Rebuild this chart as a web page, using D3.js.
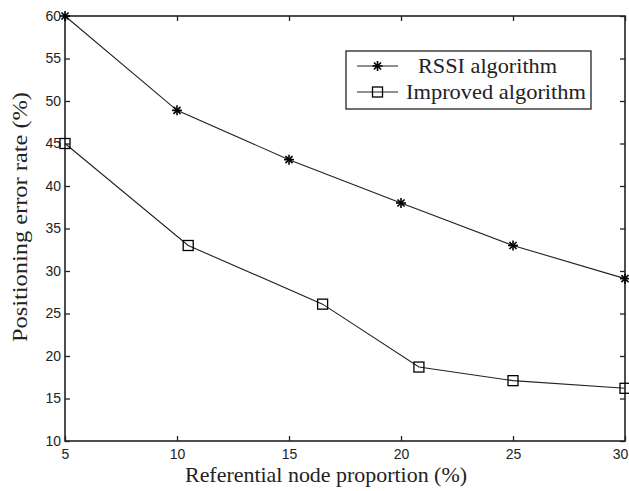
<!DOCTYPE html>
<html>
<head>
<meta charset="utf-8">
<script src="https://cdn.jsdelivr.net/npm/d3@7"></script>
<style>
  body { margin: 0; background: #fff; }
  svg { display: block; }
</style>
</head>
<body>
<svg id="chart" width="629" height="491"></svg>
<script>
// data
var rssiX = [5, 10, 15, 20, 25, 30];
var rssiY = [60, 48.9, 43.1, 38, 33, 29.1];
var impX = [5, 10.5, 16.5, 20.8, 25, 30];
var impY = [45, 33, 26.1, 18.7, 17.1, 16.2];
var xTicks = [5, 10, 15, 20, 25, 30];
var yTicks = [10, 15, 20, 25, 30, 35, 40, 45, 50, 55, 60];
var seriesNames = ["RSSI algorithm", "Improved algorithm"];

var svg = d3.select("#chart");
var m = { left: 65, top: 16, right: 625, bottom: 441 };

var x = d3.scaleLinear().domain([5, 30]).range([m.left, m.right]);
var y = d3.scaleLinear().domain([10, 60]).range([m.bottom, m.top]);

var ink = "#222";
var sans = "Arial, 'Liberation Sans', sans-serif";
var serif = "'Liberation Serif', 'Times New Roman', serif";

// frame ticks (inward on all four sides)
svg.append("g").attr("transform", "translate(0," + m.bottom + ")")
  .call(d3.axisBottom(x).tickValues(xTicks).tickSize(-5).tickPadding(8))
  .call(function(g) {
    g.select(".domain").remove();
    g.selectAll("text").attr("font-family", sans).attr("font-size", 14).attr("fill", ink);
    // last label sits against the window edge
    g.selectAll("text").filter(function(d) { return d === 30; }).attr("dx", -5);
  });
svg.append("g").attr("transform", "translate(0," + m.top + ")")
  .call(d3.axisTop(x).tickValues(xTicks).tickSize(-5).tickFormat(""))
  .call(function(g) { g.select(".domain").remove(); });
svg.append("g").attr("transform", "translate(" + m.left + ",0)")
  .call(d3.axisLeft(y).tickValues(yTicks).tickSize(-5).tickPadding(4))
  .call(function(g) {
    g.select(".domain").remove();
    g.selectAll("text").attr("font-family", sans).attr("font-size", 14).attr("fill", ink);
  });
svg.append("g").attr("transform", "translate(" + m.right + ",0)")
  .call(d3.axisRight(y).tickValues(yTicks).tickSize(-5).tickFormat(""))
  .call(function(g) { g.select(".domain").remove(); });

svg.selectAll(".tick line").attr("stroke", ink).attr("stroke-width", 1.3);

svg.append("rect")
  .attr("x", m.left).attr("y", m.top)
  .attr("width", m.right - m.left).attr("height", m.bottom - m.top)
  .attr("fill", "none").attr("stroke", ink).attr("stroke-width", 1.6);

var line = d3.line().x(function(d) { return x(d[0]); }).y(function(d) { return y(d[1]); });

var rssi = d3.zip(rssiX, rssiY);
var imp = d3.zip(impX, impY);

svg.append("path").datum(rssi).attr("d", line)
  .attr("fill", "none").attr("stroke", ink).attr("stroke-width", 1.1);
svg.append("path").datum(imp).attr("d", line)
  .attr("fill", "none").attr("stroke", ink).attr("stroke-width", 1.1);

function star(g, cx, cy) {
  var r = 5;
  for (var k = 0; k < 4; k++) {
    var a = k * Math.PI / 4;
    g.append("line")
      .attr("x1", cx - r * Math.cos(a)).attr("y1", cy - r * Math.sin(a))
      .attr("x2", cx + r * Math.cos(a)).attr("y2", cy + r * Math.sin(a))
      .attr("stroke", "#000").attr("stroke-width", 1.6);
  }
}
function square(g, cx, cy) {
  g.append("rect").attr("x", cx - 5).attr("y", cy - 5)
    .attr("width", 10).attr("height", 10)
    .attr("fill", "none").attr("stroke", "#000").attr("stroke-width", 1.3);
}

var marks = svg.append("g");
rssi.forEach(function(d) { star(marks, x(d[0]), y(d[1])); });
imp.forEach(function(d) { square(marks, x(d[0]), y(d[1])); });

// legend
var lg = svg.append("g");
lg.append("rect").attr("x", 346).attr("y", 51).attr("width", 245).attr("height", 58)
  .attr("fill", "#fff").attr("stroke", ink).attr("stroke-width", 1.3);
var rows = [66, 92];
var textW = [139, 180];
rows.forEach(function(ry, i) {
  lg.append("line").attr("x1", 357).attr("x2", 398).attr("y1", ry).attr("y2", ry)
    .attr("stroke", ink).attr("stroke-width", 1.1);
  if (i === 0) star(lg, 377.5, ry); else square(lg, 377.5, ry);
  lg.append("text").attr("x", i === 0 ? 418 : 406).attr("y", ry + 7)
    .attr("font-family", serif)
    .attr("font-size", 22).attr("fill", ink)
    .attr("textLength", textW[i]).attr("lengthAdjust", "spacingAndGlyphs")
    .text(seriesNames[i]);
});

// axis titles
svg.append("text").attr("x", 326).attr("y", 482)
  .attr("text-anchor", "middle")
  .attr("font-family", serif)
  .attr("font-size", 21).attr("fill", ink)
  .attr("textLength", 282).attr("lengthAdjust", "spacingAndGlyphs")
  .text("Referential node proportion (%)");
svg.append("text")
  .attr("transform", "translate(27,217) rotate(-90)")
  .attr("text-anchor", "middle")
  .attr("font-family", serif)
  .attr("font-size", 21).attr("fill", ink)
  .attr("textLength", 250).attr("lengthAdjust", "spacingAndGlyphs")
  .text("Positioning error rate (%)");
</script>
</body>
</html>
